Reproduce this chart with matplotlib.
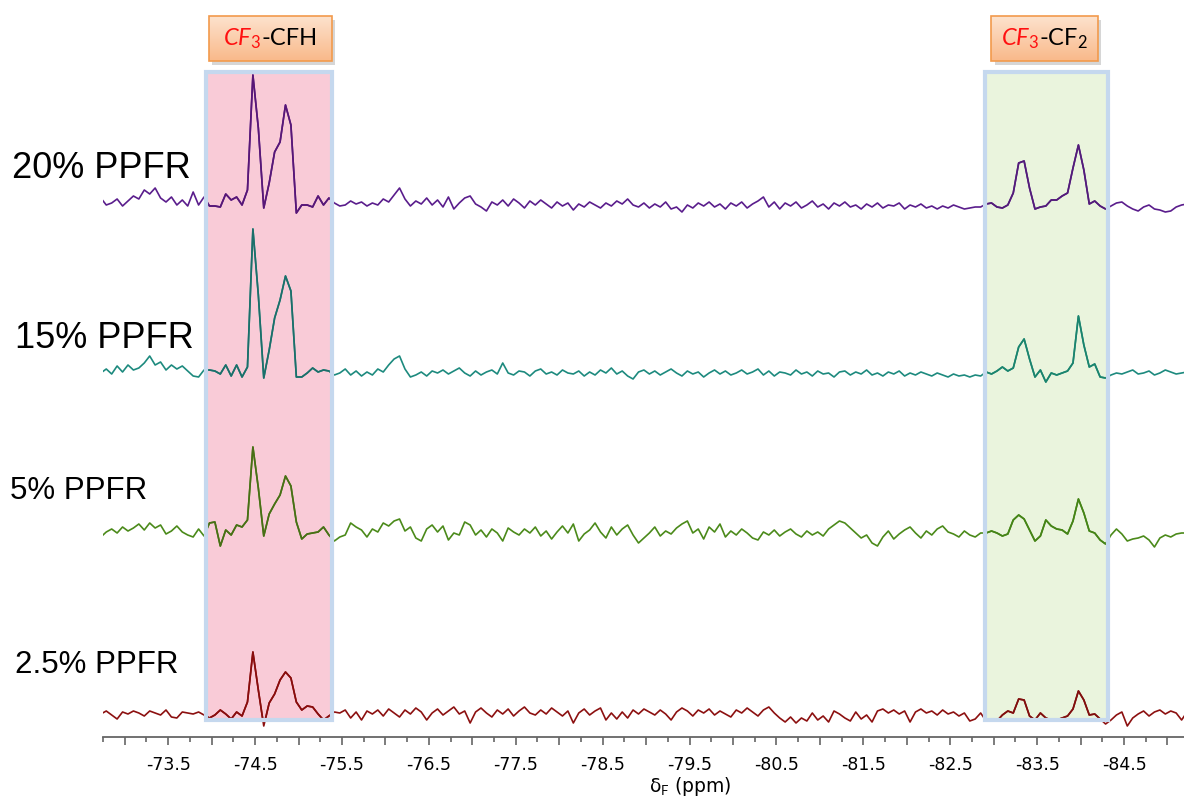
import numpy as np
import matplotlib.pyplot as plt
from matplotlib.patches import Rectangle, FancyBboxPatch
from matplotlib.offsetbox import TextArea, HPacker, AnnotationBbox
from matplotlib.ticker import MultipleLocator, FuncFormatter
from matplotlib.colors import to_rgb

plt.rcParams['mathtext.fontset'] = 'custom'
plt.rcParams['mathtext.rm'] = 'Lato'
plt.rcParams['mathtext.it'] = 'Lato:italic'

# chemical shift axis of the spectra (ppm)
shift = np.linspace(-72.725, -85.225, 201)

# intensities (arbitrary units)
ppfr_20 = [7, 0, 2, 6, -1, 4, 9, 6, 15, 11,
           17, 7, 3, 8, 0, 5, -1, 13, 0, 8,
           -1, -1, -2, 11, 5, 8, 0, 15, 130, 77,
           -3, 22, 53, 63, 100, 80, -8, 0, 0, -2,
           9, 0, 7, 2, -1, 0, 4, 1, 3, -1,
           2, 0, 6, 3, 10, 17, 6, -1, 4, 1,
           7, 0, 5, -2, 8, -4, 2, 7, 9, 1,
           -2, -6, 3, 0, 5, -1, 6, 2, -3, 4,
           0, 5, 1, -3, 3, -1, 2, -5, 1, -2,
           3, 0, -3, 2, -1, 4, 1, 6, 0, -2,
           2, -3, 1, -2, 3, -4, -2, -7, 0, -3,
           2, -1, 3, -2, 1, -4, 2, -1, 3, -3,
           1, 4, 8, -2, 3, -4, 2, -1, 3, -3,
           0, 4, -2, 1, -4, 2, -1, 3, -2, 0,
           -4, 1, -2, 2, -3, 0, -1, 2, -4, 0,
           -2, 1, -3, -1, -4, -1, -3, 0, -2, -4,
           -3, -2, -2, 1, 2, -2, -3, 0, 12, 42,
           44, 17, -4, -2, -1, 5, 5, 9, 12, 37,
           60, 35, 1, 4, -1, -4, -1, 2, 3, -1,
           -4, -6, -2, 0, -4, -5, -7, -6, -2, 0,
           1]
ppfr_15 = [0, 4, -1, 7, 1, 8, 3, 5, 10, 17,
           8, 11, 3, 8, 4, 7, 2, -3, -4, 3,
           3, 2, -1, 8, -3, 8, -4, 6, 144, 78,
           -5, 23, 55, 73, 97, 82, -4, -4, 0, 5,
           1, 3, 2, -2, 0, 4, -2, 2, -3, 1,
           -2, 4, 1, 8, 14, 17, 4, -4, -2, 1,
           -3, 2, 0, 3, -1, 2, 5, 0, -3, 2,
           -2, 1, 3, -1, 10, 0, -2, 2, 1, -3,
           2, 4, -1, 1, -2, 3, 0, -1, 2, -3,
           1, -2, 3, 0, 5, -1, 2, -3, -6, 1,
           3, -1, 2, -2, 1, 4, 0, -3, 2, -1,
           1, -4, 0, 3, -1, 2, -2, 0, 3, -1,
           1, 4, -2, 2, -3, 1, 0, -2, 3, -1,
           1, -3, 2, -1, 0, -4, 1, 2, -2, 1,
           -1, 3, -2, 0, -3, 1, -1, 2, -3, 0,
           -2, 1, -1, -3, 0, -2, -4, -1, -3, -2,
           -4, -2, -3, 1, -1, 2, 6, 2, 5, 26,
           34, 14, -4, 3, -9, 0, -2, 0, 2, 10,
           57, 28, 6, 9, -4, -5, -2, 0, -1, 1,
           3, -1, 0, 2, -2, 0, 3, 1, -1, 0,
           1]
ppfr_5 = [-2, 3, 6, 2, 8, 4, 7, 11, 5, 12,
          7, 10, 1, 4, 9, 3, 0, -2, 6, -1,
          12, 13, -11, 5, 0, 10, 8, 15, 88, 47,
          -1, 21, 31, 40, 59, 49, 13, -4, 1, 2,
          3, 8, 0, -6, -2, 0, 12, 8, 5, -2,
          6, 3, 12, 9, 14, 16, 4, 8, -3, -6,
          6, 10, 3, 9, -5, 2, 0, 13, 10, 0,
          5, -2, 6, 2, -6, 7, 3, 0, 6, 2,
          8, -1, 4, -4, 3, 9, 2, 11, -6, 1,
          5, 12, 3, -3, 8, 0, 6, 10, 0, -8,
          -3, 2, 8, -1, 4, 1, 7, 11, 14, 2,
          6, -4, 8, 3, 11, -2, 4, 0, 6, 2,
          -3, -5, 3, 0, 5, -1, 3, 6, 1, -2,
          4, 0, 3, -1, 6, 10, 14, 12, 7, 2,
          -3, 0, -8, -11, -2, 4, -4, 1, 5, 8,
          2, -3, 4, 0, 6, 9, 3, 1, -2, 4,
          0, -2, 2, 2, 4, 2, -1, 1, 15, 20,
          16, 5, -6, -1, 15, 9, 6, 5, 1, 14,
          36, 22, 4, 2, -5, -9, 0, 6, 1, -6,
          -4, -3, -1, -5, -12, -3, 0, -2, 1, 2,
          2]
ppfr_2_5 = [0, 3, -1, -5, 2, 0, 3, 1, -2, 3,
            1, -1, 4, -3, -4, 2, 1, 0, 2, -1,
            -4, -1, 4, 0, -5, 2, -2, 12, 62, 24,
            -12, 11, 20, 34, 42, 36, 12, 4, 8, 7,
            0, -6, -2, 2, 1, 4, -4, 2, -6, 3,
            0, 4, -2, 5, 1, -3, 4, 0, 6, 2,
            -6, 1, 5, -1, 3, 7, 0, 3, -9, 2,
            6, 1, -3, 4, 0, 5, -2, 3, 7, 1,
            -1, 4, 0, 6, 2, -2, 3, -9, 1, 5,
            -1, 3, 6, -6, 1, -5, 2, -4, 4, 0,
            5, 2, -1, 4, 0, -6, 2, 6, 3, -2,
            4, 1, 5, -1, 3, 0, -3, 4, 1, 6,
            2, -2, 4, 7, 1, -4, -8, -3, -9, -4,
            -7, 1, -6, -2, -8, 3, 0, -4, -7, 2,
            -5, -1, -8, 3, 5, 1, 4, 0, 3, -8,
            2, 5, 1, 3, -1, 4, 0, 2, -2, 1,
            -7, -5, 1, -7, -7, -7, -1, 3, 1, 15,
            14, -2, -6, 1, -4, -6, -6, -4, -2, 5,
            23, 14, -1, 0, -5, -10, -6, -1, 2, -12,
            -4, 0, 3, -2, 2, 4, 0, 3, 1, -6,
            2]

samples = ['20% PPFR', '15% PPFR', '5% PPFR', '2.5% PPFR']
traces = [ppfr_20, ppfr_15, ppfr_5, ppfr_2_5]
offsets = [532, 364, 202, 23]
colors = ['#5a1d8c', '#1d8a7e', '#4b8a1a', '#8c1010']
label_y = [169, 339, 491, 665]
label_x = [12, 15, 10, 15]
label_size = [26, 26, 22.5, 22.5]

# integration windows (ppm) and their labels
regions = [(-73.93, -75.38), (-82.90, -84.32)]
region_fill = ['#f9cbd7', '#eaf4dd']
tag_boxes = [(-73.97, -75.38), (-82.97, -84.20)]
tag_black = ['-CFH', '-CF$_2$']

fig = plt.figure(figsize=(11.84, 7.98), dpi=100)
ax = fig.add_axes([103 / 1184, 61 / 798, 1081 / 1184, 737 / 798])

fills = []
for (a, b), fc in zip(regions, region_fill):
    r = Rectangle((a, 17), b - a, 648, facecolor=fc, edgecolor='none', zorder=1)
    ax.add_patch(r)
    fills.append(r)
    ax.add_patch(Rectangle((a, 17), b - a, 648, facecolor='none',
                           edgecolor='#c5d8ee', lw=3, zorder=5))

for vals, off, col in zip(traces, offsets, colors):
    y = off + np.asarray(vals)
    ax.plot(shift, y, color=col, lw=1.2, zorder=3, solid_joinstyle='round')
    for r in fills:
        tint = np.array(to_rgb(col)) * np.array(r.get_facecolor()[:3])
        ln, = ax.plot(shift, y, color=tint, lw=1.2, zorder=4, solid_joinstyle='round')
        ln.set_clip_path(r)

# orange tag boxes above the windows
grad = np.linspace(0, 1, 64).reshape(-1, 1)
tag_cmap = plt.matplotlib.colors.LinearSegmentedColormap.from_list('tag', ['#f9b98a', '#fde2cd'])
for (a, b), black in zip(tag_boxes, tag_black):
    y0, y1 = 676, 721
    sh = FancyBboxPatch((a - 0.04, y0 - 4), b - a, y1 - y0, boxstyle='square,pad=0',
                        facecolor='#999999', edgecolor='none', alpha=0.4, zorder=5)
    ax.add_patch(sh)
    box = FancyBboxPatch((a, y0), b - a, y1 - y0, boxstyle='square,pad=0',
                         facecolor='none', edgecolor='#f29a4c', lw=1.2, zorder=7)
    ax.add_patch(box)
    im = ax.imshow(grad, cmap=tag_cmap, extent=(a, b, y0, y1), origin='lower',
                   aspect='auto', zorder=6)
    im.set_clip_path(box)
    parts = HPacker(children=[
        TextArea(r'$\mathit{CF}_{\mathit{3}}$', textprops=dict(color='#ff1010', fontsize=17)),
        TextArea(black, textprops=dict(color='black', fontsize=17, family='Lato'))],
        align='baseline', pad=0, sep=0)
    ax.add_artist(AnnotationBbox(parts, ((a + b) / 2, (y0 + y1) / 2), frameon=False,
                                 box_alignment=(0.5, 0.5), zorder=8))

ax.set_xlim(-72.75, -85.19)
ax.set_ylim(0, 737)

ax.xaxis.set_major_locator(MultipleLocator(0.5))
ax.xaxis.set_minor_locator(MultipleLocator(0.25))
ax.xaxis.set_major_formatter(FuncFormatter(
    lambda v, p: f'{v:.1f}' if round(abs(v) * 2) % 2 == 1 else ''))
ax.tick_params(axis='x', which='major', direction='out', length=6, width=1.2,
               color='#666666', labelsize=12.5, pad=8)
ax.tick_params(axis='x', which='minor', direction='out', length=3.5, width=1.2,
               color='#666666')
ax.set_yticks([])
for s in ['left', 'top', 'right']:
    ax.spines[s].set_visible(False)
ax.spines['bottom'].set_color('#666666')
ax.spines['bottom'].set_linewidth(1.3)

for name, lx, ly, fs in zip(samples, label_x, label_y, label_size):
    fig.text(lx / 1184, 1 - ly / 798, name, fontsize=fs, family='Liberation Sans',
             ha='left', va='center')

fig.text(690 / 1184, 1 - 786 / 798, 'δ$_{\\mathrm{F}}$ (ppm)', fontsize=13.5,
         ha='center', va='center')

fig.savefig('out.png', dpi=100)
